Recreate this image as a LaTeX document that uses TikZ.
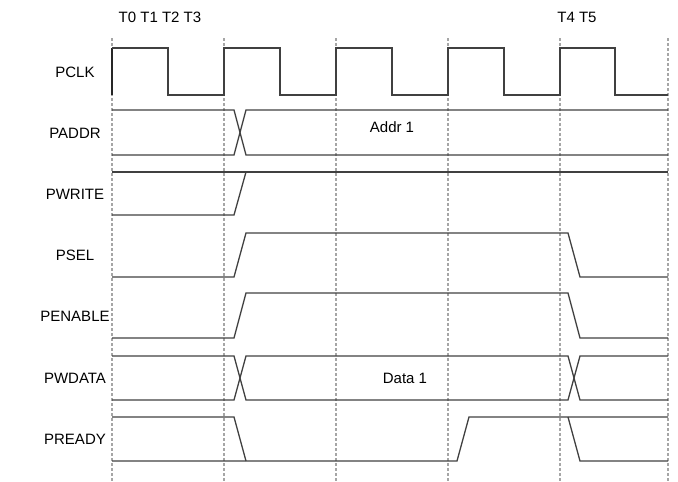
\documentclass[tikz,border=0pt]{standalone}
\usepackage{fontspec}
\setmainfont{Liberation Sans}

\begin{document}
\begin{tikzpicture}[x=1pt,y=-1pt, thick,
    sig/.style={draw=black!75, line width=1.3pt},
    grid/.style={draw=black!35, dash pattern=on 3pt off 2pt, line width=1.3pt},
    lbl/.style={font=\fontsize{15}{18}\selectfont, inner sep=0pt}]
  \useasboundingbox (0,0) rectangle (678,482);
  % clock edges
  \foreach \x/\n in {112/a,224/b,336/c,448/d,560/e,668/f}
    \draw[grid] (\x,38) coordinate (top\n) -- (\x,482) coordinate (bot\n);

  \node[lbl] (tl) at (160,17) {T0 T1 T2 T3};
  \node[lbl] (tr) at (577,17) {T4 T5};

  \node[lbl] (pclk)    at (75,72)  {PCLK};
  \node[lbl] (paddr)   at (75,133) {PADDR};
  \node[lbl] (pwrite)  at (75,194) {PWRITE};
  \node[lbl] (psel)    at (75,255) {PSEL};
  \node[lbl] (penable) at (75,316) {PENABLE};
  \node[lbl] (pwdata)  at (75,378) {PWDATA};
  \node[lbl] (pready)  at (75,439) {PREADY};

  % PCLK
  \draw[line width=2.2pt, black!85] (112,48) -- (112,95);
  \draw[sig] (112,48) -- (168,48) -- (168,95) -- (224,95) -- (224,48) -- (280,48)
    -- (280,95) -- (336,95) -- (336,48) -- (392,48) -- (392,95) -- (448,95)
    -- (448,48) -- (504,48) -- (504,95) -- (560,95) -- (560,48) -- (615,48)
    -- (615,95) -- (668,95);

  % PADDR
  \draw[sig] (112,110) -- (234,110) -- (246,155) -- (668,155);
  \draw[sig] (112,155) -- (234,155) -- (246,110) -- (668,110);
  \node[lbl] (addr) at (392,127) {Addr 1};

  % PWRITE
  \draw[sig] (112,172) -- (668,172);
  \draw[sig] (112,215) -- (234,215) -- (246,172);

  % PSEL
  \draw[sig] (112,277) -- (234,277) -- (246,233) -- (568,233) -- (580,277) -- (668,277);

  % PENABLE
  \draw[sig] (112,338) -- (234,338) -- (246,293) -- (568,293) -- (580,338) -- (668,338);

  % PWDATA
  \draw[sig] (112,356) -- (234,356) -- (246,400) -- (568,400) -- (580,356) -- (668,356);
  \draw[sig] (112,400) -- (234,400) -- (246,356) -- (568,356) -- (580,400) -- (668,400);
  \node[lbl] (data) at (405,378) {Data 1};

  % PREADY
  \draw[sig] (112,417) -- (234,417) -- (246,461);
  \draw[sig] (112,461) -- (457,461) -- (469,417) -- (668,417);
  \draw[sig] (568,417) -- (580,461) -- (668,461);
\end{tikzpicture}
\end{document}
